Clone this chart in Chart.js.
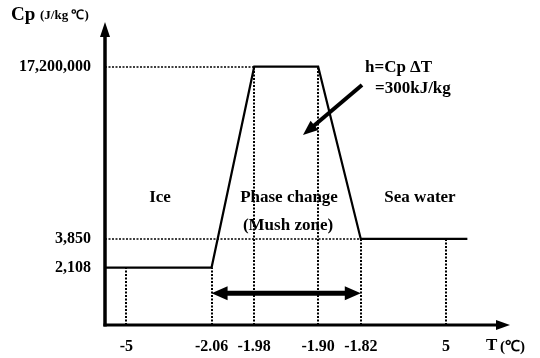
<!DOCTYPE html>
<html>
<head>
<meta charset="utf-8">
<script src="https://cdn.jsdelivr.net/npm/chart.js@4.4.0/dist/chart.umd.min.js"></script>
<style>
  html, body { margin: 0; padding: 0; background: #fff; }
</style>
</head>
<body>
<canvas id="cpChart" width="540" height="358"></canvas>
<script>
// schematic axes (not to scale): blank labels are just spacers
const tempLabels = ['', '-5', '', '', '', '-2.06', '', '-1.98', '', '', '-1.90', '', '-1.82', '', '', '', '5', '', '', ''];
const cpLabels = ['', '17,200,000', '', '', '', '', '', '3,850', '2,108', '', ''];

// Cp at each temperature slot (null = straight line through)
const cpValues = ['2,108', '2,108', null, null, null, '2,108', null, '17,200,000', null, null, '17,200,000', null, '3,850', null, null, null, '3,850', '3,850', null, null];

// dotted horizontal guides: level and where they stop
const guideLevels = ['17,200,000', '3,850'];
const guideEnds = ['-1.98', '-1.82'];

// mush zone span (double arrow)
const mushZone = ['-2.06', '-1.82'];

const FONT = '"Liberation Serif", "Times New Roman", serif';

const schematic = {
  id: 'schematic',
  beforeDatasetsDraw(chart) {
    const { ctx, chartArea, scales: { x, y } } = chart;
    ctx.save();
    ctx.strokeStyle = '#000';
    ctx.lineWidth = 2;
    ctx.setLineDash([2, 1.5]);
    // vertical guides from the axis up to the curve
    tempLabels.forEach((t, i) => {
      if (!t) return;
      const px = Math.round(x.getPixelForValue(i));
      const py = y.getPixelForValue(cpLabels.indexOf(cpValues[i]));
      ctx.beginPath();
      ctx.moveTo(px, chartArea.bottom);
      ctx.lineTo(px, py);
      ctx.stroke();
    });
    ctx.lineWidth = 1.6;
    guideLevels.forEach((lvl, k) => {
      const py = Math.round(y.getPixelForValue(cpLabels.indexOf(lvl)));
      ctx.beginPath();
      ctx.moveTo(chartArea.left, py);
      ctx.lineTo(x.getPixelForValue(tempLabels.indexOf(guideEnds[k])), py);
      ctx.stroke();
    });
    ctx.restore();
  },
  afterDraw(chart) {
    const { ctx, chartArea, scales: { x, y } } = chart;
    const L = chartArea.left, B = chartArea.bottom, R = chartArea.right;
    ctx.save();
    ctx.fillStyle = '#000';
    ctx.strokeStyle = '#000';

    // axes with arrow heads
    ctx.lineWidth = 3.5;
    ctx.beginPath();
    ctx.moveTo(L, B + 1.5);
    ctx.lineTo(L, 32);
    ctx.stroke();
    ctx.lineWidth = 3;
    ctx.beginPath();
    ctx.moveTo(L - 1.5, B);
    ctx.lineTo(R - 10, B);
    ctx.stroke();
    ctx.beginPath();
    ctx.moveTo(L, 22); ctx.lineTo(L - 5, 37); ctx.lineTo(L + 5, 37); ctx.closePath();
    ctx.fill();
    ctx.beginPath();
    ctx.moveTo(R, B); ctx.lineTo(R - 14, B - 5); ctx.lineTo(R - 14, B + 5); ctx.closePath();
    ctx.fill();

    // mush zone double arrow
    const x1 = x.getPixelForValue(tempLabels.indexOf(mushZone[0]));
    const x2 = x.getPixelForValue(tempLabels.indexOf(mushZone[1]));
    const ya = (y.getPixelForValue(cpLabels.indexOf('2,108')) + B) / 2 - 3;
    ctx.lineWidth = 5;
    ctx.beginPath();
    ctx.moveTo(x1 + 12, ya);
    ctx.lineTo(x2 - 12, ya);
    ctx.stroke();
    ctx.beginPath();
    ctx.moveTo(x1, ya); ctx.lineTo(x1 + 16, ya - 7); ctx.lineTo(x1 + 16, ya + 7); ctx.closePath();
    ctx.moveTo(x2, ya); ctx.lineTo(x2 - 16, ya - 7); ctx.lineTo(x2 - 16, ya + 7); ctx.closePath();
    ctx.fill();

    // enthalpy pointer arrow
    const sx = 362, sy = 85, tx = 303, ty = 135;
    const ang = Math.atan2(ty - sy, tx - sx);
    ctx.lineWidth = 4;
    ctx.beginPath();
    ctx.moveTo(sx, sy);
    ctx.lineTo(tx - 10 * Math.cos(ang), ty - 10 * Math.sin(ang));
    ctx.stroke();
    ctx.beginPath();
    ctx.moveTo(tx, ty);
    ctx.lineTo(tx - 15 * Math.cos(ang) + 6 * Math.sin(ang), ty - 15 * Math.sin(ang) - 6 * Math.cos(ang));
    ctx.lineTo(tx - 15 * Math.cos(ang) - 6 * Math.sin(ang), ty - 15 * Math.sin(ang) + 6 * Math.cos(ang));
    ctx.closePath();
    ctx.fill();

    // texts
    ctx.textBaseline = 'middle';
    ctx.textAlign = 'center';
    ctx.font = 'bold 17px ' + FONT;
    ctx.fillText('Ice', 160, 198);
    ctx.fillText('Phase change', 289, 198);
    ctx.fillText('(Mush zone)', 288, 226);
    ctx.fillText('Sea water', 420, 198);
    ctx.textAlign = 'left';
    ctx.fillText('h=Cp \u0394T', 365, 68);
    ctx.fillText('=300kJ/kg', 375, 89);

    ctx.font = 'bold 19px ' + FONT;
    ctx.fillText('Cp', 11, 15);
    ctx.font = 'bold 13px ' + FONT;
    ctx.fillText('(J/kg \u2103)', 40, 16);

    ctx.font = 'bold 17px ' + FONT;
    ctx.fillText('T', 486, 346);
    ctx.font = 'bold 15px ' + FONT;
    ctx.fillText('(\u2103)', 500, 347);
    ctx.restore();
  }
};

new Chart(document.getElementById('cpChart'), {
  type: 'line',
  data: {
    labels: tempLabels,
    datasets: [{
      label: 'Cp',
      data: cpValues,
      borderColor: '#000',
      borderWidth: 2.2,
      pointRadius: 0,
      spanGaps: true,
      tension: 0
    }]
  },
  options: {
    responsive: false,
    animation: false,
    devicePixelRatio: 1,
    layout: { padding: { top: 38, right: 30, left: 0, bottom: 0 } },
    plugins: { legend: { display: false }, tooltip: { enabled: false } },
    scales: {
      x: {
        grid: { display: false, drawTicks: false },
        border: { display: false },
        ticks: {
          autoSkip: false, maxRotation: 0, padding: 12, color: '#000',
          font: { family: FONT, size: 16, weight: 'bold' }
        },
        afterFit(scale) { scale.height = 33; }
      },
      y: {
        type: 'category',
        labels: cpLabels,
        grid: { display: false, drawTicks: false },
        border: { display: false },
        ticks: {
          autoSkip: false, padding: 14, color: '#000',
          font: { family: FONT, size: 16, weight: 'bold' }
        },
        afterFit(scale) { scale.width = 105; }
      }
    }
  },
  plugins: [schematic]
});
</script>
</body>
</html>
